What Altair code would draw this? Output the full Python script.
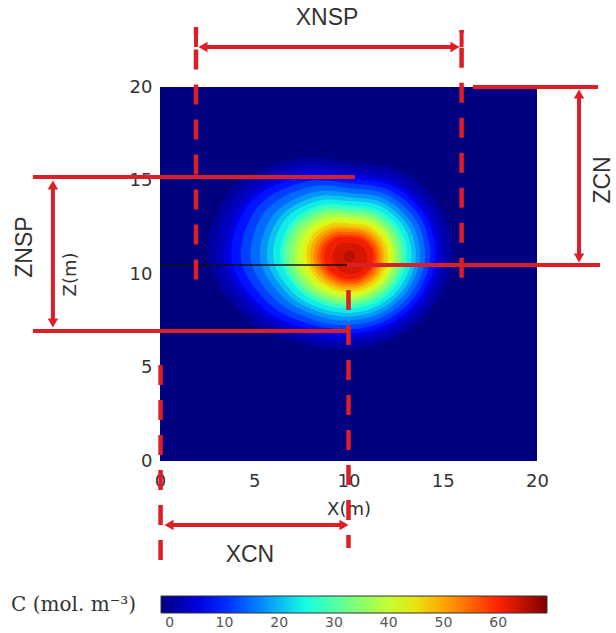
import altair as alt
import pandas as pd

# ---------------------------------------------------------------------------
# Concentration field C (mol/m^3) as filled iso-contours.
# Each contour is a closed ring of (X, Z) points in metres, listed from the
# +X direction counter-clockwise; BAND_VALUES is the value painted inside it.
# ---------------------------------------------------------------------------
C_MIN = -1.6                      # far-field level (bottom of the colour bar)
CONTOUR_LEVELS = [0, 1.5, 3, 5, 7, 10, 13, 16, 19, 22, 25, 27, 30, 33, 36,
                  39, 42, 45, 48, 51, 54, 57, 60, 62, 64]
BAND_VALUES = [0.75, 2.25, 4, 6, 8.5, 11.5, 14.5, 17.5, 20.5, 23.5, 26, 28.5,
               31.5, 34.5, 37.5, 40.5, 43.5, 46.5, 49.5, 52.5, 55.5, 58.5,
               61, 63, 65]
CONTOURS = [
    [(15.50, 10.80), (14.88, 13.56), (12.80, 15.48), (10.10, 15.96), (7.04, 16.10), (3.76, 14.46),
     (2.54, 10.80), (4.59, 7.62), (7.50, 6.28), (10.10, 6.00), (12.52, 6.61), (14.49, 8.27)],
    [(15.19, 10.80), (14.60, 13.40), (12.64, 15.21), (10.10, 15.66), (7.22, 15.79), (4.13, 14.25),
     (2.98, 10.80), (4.91, 7.81), (7.65, 6.54), (10.10, 6.28), (12.38, 6.86), (14.24, 8.42)],
    [(14.92, 10.80), (14.36, 13.26), (12.51, 14.97), (10.10, 15.40), (7.37, 15.53), (4.45, 14.06),
     (3.36, 10.80), (5.19, 7.96), (7.78, 6.77), (10.10, 6.52), (12.26, 7.07), (14.02, 8.54)],
    [(14.74, 10.80), (14.20, 13.17), (12.42, 14.82), (10.10, 15.23), (7.47, 15.35), (4.66, 13.94),
     (3.61, 10.80), (5.37, 8.07), (7.86, 6.92), (10.10, 6.68), (12.18, 7.21), (13.87, 8.63)],
    [(14.60, 10.80), (14.08, 13.10), (12.35, 14.70), (10.10, 15.10), (7.55, 15.22), (4.82, 13.85),
     (3.80, 10.80), (5.51, 8.15), (7.93, 7.03), (10.10, 6.80), (12.12, 7.31), (13.76, 8.69)],
    [(14.33, 10.80), (13.85, 12.96), (12.22, 14.46), (10.10, 14.84), (7.72, 14.93), (5.21, 13.62),
     (4.30, 10.80), (5.85, 8.35), (8.07, 7.28), (10.10, 7.04), (11.99, 7.52), (13.54, 8.81)],
    [(14.06, 10.80), (13.61, 12.82), (12.08, 14.23), (10.10, 14.58), (7.88, 14.64), (5.61, 13.39),
     (4.81, 10.80), (6.20, 8.55), (8.21, 7.52), (10.10, 7.28), (11.87, 7.73), (13.32, 8.94)],
    [(13.79, 10.80), (13.37, 12.69), (11.95, 14.00), (10.10, 14.33), (8.05, 14.36), (6.01, 13.16),
     (5.31, 10.80), (6.54, 8.75), (8.35, 7.77), (10.10, 7.52), (11.75, 7.94), (13.10, 9.07)],
    [(13.57, 10.80), (13.17, 12.57), (11.83, 13.80), (10.10, 14.11), (8.18, 14.12), (6.31, 12.99),
     (5.69, 10.80), (6.81, 8.90), (8.46, 7.97), (10.10, 7.72), (11.65, 8.11), (12.92, 9.17)],
    [(13.34, 10.80), (12.97, 12.46), (11.72, 13.61), (10.10, 13.90), (8.31, 13.90), (6.57, 12.84),
     (6.01, 10.80), (7.04, 9.03), (8.57, 8.15), (10.10, 7.92), (11.55, 8.29), (12.74, 9.28)],
    [(13.12, 10.80), (12.77, 12.34), (11.61, 13.41), (10.10, 13.68), (8.44, 13.67), (6.88, 12.66),
     (6.38, 10.80), (7.30, 9.18), (8.69, 8.35), (10.10, 8.12), (11.45, 8.46), (12.55, 9.38)],
    [(13.00, 10.80), (12.67, 12.28), (11.55, 13.31), (10.10, 13.57), (8.50, 13.57), (6.99, 12.60),
     (6.51, 10.80), (7.40, 9.24), (8.74, 8.44), (10.10, 8.22), (11.40, 8.55), (12.46, 9.44)],
    [(12.85, 10.80), (12.53, 12.20), (11.47, 13.18), (10.10, 13.42), (8.58, 13.43), (7.12, 12.52),
     (6.64, 10.80), (7.51, 9.30), (8.81, 8.56), (10.10, 8.36), (11.33, 8.67), (12.33, 9.51)],
    [(12.71, 10.80), (12.41, 12.13), (11.41, 13.06), (10.10, 13.29), (8.66, 13.29), (7.30, 12.42),
     (6.86, 10.80), (7.66, 9.39), (8.87, 8.68), (10.10, 8.48), (11.27, 8.78), (12.23, 9.57)],
    [(12.53, 10.80), (12.25, 12.04), (11.32, 12.90), (10.10, 13.12), (8.76, 13.12), (7.49, 12.31),
     (7.08, 10.80), (7.83, 9.49), (8.96, 8.82), (10.10, 8.64), (11.19, 8.92), (12.08, 9.66)],
    [(12.40, 10.80), (12.13, 11.97), (11.25, 12.79), (10.10, 12.99), (8.84, 12.98), (7.68, 12.20),
     (7.33, 10.80), (8.00, 9.59), (9.03, 8.95), (10.10, 8.76), (11.13, 9.02), (11.97, 9.72)],
    [(12.22, 10.80), (11.97, 11.88), (11.16, 12.63), (10.10, 12.82), (8.95, 12.80), (7.89, 12.07),
     (7.58, 10.80), (8.18, 9.69), (9.12, 9.10), (10.10, 8.92), (11.05, 9.16), (11.82, 9.81)],
    [(12.08, 10.80), (11.85, 11.81), (11.09, 12.52), (10.10, 12.69), (9.02, 12.67), (8.05, 11.98),
     (7.77, 10.80), (8.32, 9.77), (9.18, 9.21), (10.10, 9.04), (10.99, 9.26), (11.71, 9.87)],
    [(11.90, 10.80), (11.69, 11.72), (11.00, 12.36), (10.10, 12.52), (9.12, 12.50), (8.22, 11.88),
     (7.96, 10.80), (8.47, 9.86), (9.26, 9.35), (10.10, 9.20), (10.91, 9.40), (11.57, 9.95)],
    [(11.77, 10.80), (11.57, 11.65), (10.93, 12.24), (10.10, 12.39), (9.19, 12.37), (8.38, 11.79),
     (8.15, 10.80), (8.61, 9.94), (9.33, 9.46), (10.10, 9.32), (10.85, 9.51), (11.46, 10.02)],
    [(11.61, 10.80), (11.44, 11.57), (10.85, 12.11), (10.10, 12.24), (9.28, 12.22), (8.55, 11.70),
     (8.34, 10.80), (8.75, 10.02), (9.40, 9.59), (10.10, 9.46), (10.78, 9.63), (11.33, 10.09)],
    [(11.45, 10.80), (11.30, 11.49), (10.78, 11.97), (10.10, 12.09), (9.37, 12.07), (8.71, 11.60),
     (8.53, 10.80), (8.90, 10.10), (9.47, 9.72), (10.10, 9.60), (10.71, 9.75), (11.20, 10.17)],
    [(11.32, 10.80), (11.18, 11.42), (10.71, 11.85), (10.10, 11.96), (9.44, 11.94), (8.87, 11.51),
     (8.71, 10.80), (9.03, 10.18), (9.54, 9.83), (10.10, 9.72), (10.64, 9.86), (11.09, 10.23)],
    [(11.00, 10.80), (10.90, 11.26), (10.55, 11.58), (10.10, 11.66), (9.62, 11.63), (9.24, 11.30),
     (9.16, 10.80), (9.35, 10.37), (9.69, 10.09), (10.10, 10.00), (10.50, 10.10), (10.83, 10.38)],
    [(10.35, 10.95), (10.31, 11.10), (10.20, 11.21), (10.05, 11.25), (9.90, 11.21), (9.79, 11.10),
     (9.75, 10.95), (9.79, 10.80), (9.90, 10.69), (10.05, 10.65), (10.20, 10.69), (10.31, 10.80)],
]

DOMAIN_X = [0, 20]
DOMAIN_Z = [0, 20]
AXIS_TICKS = [0, 5, 10, 15, 20]

# jet colour map over the colour-bar range
C_STOPS = [-1.6, 7.2, 16.0, 24.8, 33.6, 42.5, 51.3, 60.1, 68.9]
JET = ["#000080", "#0000ff", "#0080ff", "#14ffe2", "#7bff7b",
       "#e2ff14", "#ff9700", "#ff2100", "#800000"]
CBAR_TICKS = [0, 10, 20, 30, 40, 50, 60]

# ---------------------------------------------------------------------------
# Dimension annotations (metres, in the X/Z frame of the plot)
# ---------------------------------------------------------------------------
RED = "#dc1e26"

# solid segments: x, z, x2, z2
SOLID = [
    (1.91, 23.2, 1.91, 22.14),      # XNSP left end tick
    (16.0, 23.05, 16.0, 22.14),     # XNSP right end tick
    (2.28, 22.14, 15.65, 22.14),    # XNSP shaft
    (16.6, 20.0, 23.24, 20.0),      # ZCN upper extension line
    (9.92, 10.48, 23.34, 10.48),    # ZCN lower extension line
    (22.23, 19.63, 22.23, 10.86),   # ZCN shaft
    (-6.74, 15.19, 10.34, 15.19),   # ZNSP upper extension line
    (-6.74, 6.95, 10.03, 6.95),     # ZNSP lower extension line
    (-5.68, 14.76, -5.68, 7.38),    # ZNSP shaft
    (0.48, -3.42, 9.76, -3.42),     # XCN shaft
]

# dashed guide lines: x, z (dash start), x2, z2
DASHED = [
    (1.91, 9.7, 1.91, 23.2),        # XNSP left guide
    (16.0, 9.8, 16.0, 23.05),       # XNSP right guide
    (10.0, 9.14, 10.0, -4.65),      # XCN right guide (X = 10)
    (0.03, 5.13, 0.03, -5.29),      # XCN left guide (X = 0)
]

# centre line through the source height
CENTRE_LINE = [(0.0, 10.48, 9.92, 10.48)]

# arrow heads: x, z, shape
HEADS = [
    (2.28, 22.14, "triangle-left"), (15.65, 22.14, "triangle-right"),
    (0.48, -3.42, "triangle-left"), (9.76, -3.42, "triangle-right"),
    (22.23, 19.63, "triangle-up"), (22.23, 10.86, "triangle-down"),
    (-5.68, 14.76, "triangle-up"), (-5.68, 7.38, "triangle-down"),
]

# dimension labels: text, x, z
LABELS_H = [("XNSP", 8.86, 23.69), ("XCN", 4.77, -5.03)]
LABELS_V = [("ZCN", 23.5, 15.03), ("ZNSP", -7.16, 11.44)]
CBAR_TITLE = [("C (mol. m\u207b\u00b3)", -7.9, -7.7)]

# ---------------------------------------------------------------------------
# Tables
# ---------------------------------------------------------------------------
background = pd.DataFrame([dict(x0=DOMAIN_X[0], x1=DOMAIN_X[1],
                                z0=DOMAIN_Z[0], z1=DOMAIN_Z[1], c=C_MIN)])

ring_rows = []
for k, (level, value, ring) in enumerate(zip(CONTOUR_LEVELS, BAND_VALUES, CONTOURS)):
    for i, (x, z) in enumerate(ring):
        ring_rows.append(dict(ring=f"L{k:02d}", level=level, c=value, i=i, x=x, z=z))
rings = pd.DataFrame(ring_rows)

seg_cols = ["x", "z", "x2", "z2"]
solid_df = pd.DataFrame(SOLID, columns=seg_cols)
dashed_df = pd.DataFrame(DASHED, columns=seg_cols)
centre_df = pd.DataFrame(CENTRE_LINE, columns=seg_cols)
heads_df = pd.DataFrame(HEADS, columns=["x", "z", "shape"])
labels_h_df = pd.DataFrame(LABELS_H, columns=["text", "x", "z"])
labels_v_df = pd.DataFrame(LABELS_V, columns=["text", "x", "z"])
cbar_title_df = pd.DataFrame(CBAR_TITLE, columns=["text", "x", "z"])

# ---------------------------------------------------------------------------
# Scales and axes shared by every layer
# ---------------------------------------------------------------------------
xs = alt.Scale(domain=DOMAIN_X, nice=False, zero=False)
zs = alt.Scale(domain=DOMAIN_Z, nice=False, zero=False)
cs = alt.Scale(domain=C_STOPS, range=JET, clamp=True, interpolate="rgb")

AX = dict(grid=False, ticks=False, tickSize=0, domain=False, labelFlush=False,
          labelFont="DejaVu Sans", labelFontSize=18, labelColor="#333333",
          titleFont="DejaVu Sans", titleFontSize=18, titleFontWeight="normal",
          titleColor="#333333")
x_axis = alt.Axis(values=AXIS_TICKS, title="X(m)", labelPadding=11,
                  titlePadding=10, **AX)
z_axis = alt.Axis(values=AXIS_TICKS, title="Z(m)", labelPadding=8,
                  titleX=-90, titleY=187, titleAngle=270,
                  titleAlign="center", titleBaseline="middle", **AX)


def X(field):
    return alt.X(field, type="quantitative", scale=xs, axis=x_axis)


def Z(field):
    return alt.Y(field, type="quantitative", scale=zs, axis=z_axis)


legend = alt.Legend(type="gradient", orient="none", legendX=1, legendY=509,
                    direction="horizontal", gradientLength=386,
                    gradientThickness=17, values=CBAR_TICKS,
                    labelFont="DejaVu Sans", labelFontSize=14,
                    labelColor="#555555", labelOffset=3,
                    gradientStrokeColor="#333333", gradientStrokeWidth=1,
                    padding=0)
color = alt.Color("c:Q", scale=cs, legend=legend, title=None)

base = alt.Chart(background).mark_rect().encode(
    x=X("x0"), x2="x1:Q", y=Z("z0"), y2="z1:Q", color=color)

field = alt.Chart(rings).mark_line(
    filled=True, interpolate="cardinal-closed", strokeWidth=0).encode(
    x=X("x"), y=Z("z"), color=color, detail="ring:N", order="i:Q")

centre = alt.Chart(centre_df).mark_rule(color="#111111", strokeWidth=1.6).encode(
    x=X("x"), y=Z("z"), x2="x2:Q", y2="z2:Q")

dashed = alt.Chart(dashed_df).mark_rule(
    color=RED, strokeWidth=4.5, strokeDash=[20, 15], strokeCap="butt").encode(
    x=X("x"), y=Z("z"), x2="x2:Q", y2="z2:Q")

solid = alt.Chart(solid_df).mark_rule(color=RED, strokeWidth=4).encode(
    x=X("x"), y=Z("z"), x2="x2:Q", y2="z2:Q")

heads = alt.Chart(heads_df).mark_point(
    filled=True, color=RED, opacity=1, size=110, strokeWidth=0).encode(
    x=X("x"), y=Z("z"), shape=alt.Shape("shape:N", scale=None))

TXT = dict(font="Liberation Sans", fontSize=23, color="#333333",
           align="center", baseline="middle")
labels_h = alt.Chart(labels_h_df).mark_text(**TXT).encode(
    x=X("x"), y=Z("z"), text="text:N")
labels_v = alt.Chart(labels_v_df).mark_text(angle=270, **TXT).encode(
    x=X("x"), y=Z("z"), text="text:N")

cbar_title = alt.Chart(cbar_title_df).mark_text(
    font="DejaVu Serif", fontSize=20, color="#333333",
    align="left", baseline="middle").encode(
    x=X("x"), y=Z("z"), text="text:N")

chart = alt.layer(
    base, field, centre, dashed, solid, heads, labels_h, labels_v, cbar_title
).properties(
    width=377,
    height=374,
    autosize=alt.AutoSizeParams(type="none"),
    padding={"left": 160, "top": 87, "right": 79, "bottom": 172},
    background="white",
).configure_view(strokeWidth=0)

chart.save("out.html", embed_options={"renderer": "svg", "actions": False})
